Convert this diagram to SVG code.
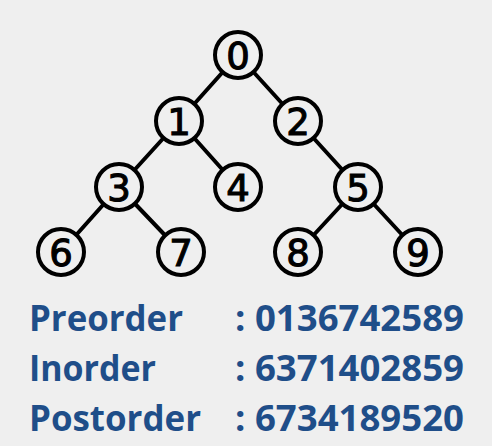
<svg xmlns="http://www.w3.org/2000/svg" width="492" height="446" viewBox="0 0 492 446">
<style>
.edge{stroke:#000;stroke-width:4;stroke-linecap:round}
.node circle{fill:#efefef;stroke:#000;stroke-width:4}
.node text{font-family:"DejaVu Sans",sans-serif;font-size:37px;fill:#000;stroke:#000;stroke-width:1.1;text-anchor:middle;dominant-baseline:central}
.lbl{font-family:"Open Sans","Liberation Sans",sans-serif;font-weight:bold;font-size:36px;fill:#1f4e89}
</style>
<rect width="492" height="446" fill="#efefef"/>
<g id="connectors">
<line class="edge" x1="238" y1="55" x2="179" y2="121"/>
<line class="edge" x1="238" y1="55" x2="298" y2="121"/>
<line class="edge" x1="179" y1="121" x2="119" y2="187"/>
<line class="edge" x1="179" y1="121" x2="238" y2="187"/>
<line class="edge" x1="298" y1="121" x2="358" y2="187"/>
<line class="edge" x1="119" y1="187" x2="61" y2="252"/>
<line class="edge" x1="119" y1="187" x2="181" y2="252"/>
<line class="edge" x1="358" y1="187" x2="298" y2="252"/>
<line class="edge" x1="358" y1="187" x2="418" y2="252"/>
</g>
<g id="n0" class="node"><circle cx="238" cy="55" r="23"/><text x="238" y="56">0</text></g>
<g id="n1" class="node"><circle cx="179" cy="121" r="23"/><text x="179" y="122">1</text></g>
<g id="n2" class="node"><circle cx="298" cy="121" r="23"/><text x="298" y="122">2</text></g>
<g id="n3" class="node"><circle cx="119" cy="187" r="23"/><text x="119" y="188">3</text></g>
<g id="n4" class="node"><circle cx="238" cy="187" r="23"/><text x="238" y="188">4</text></g>
<g id="n5" class="node"><circle cx="358" cy="187" r="23"/><text x="358" y="188">5</text></g>
<g id="n6" class="node"><circle cx="61" cy="252" r="23"/><text x="61" y="253">6</text></g>
<g id="n7" class="node"><circle cx="181" cy="252" r="23"/><text x="181" y="253">7</text></g>
<g id="n8" class="node"><circle cx="298" cy="252" r="23"/><text x="298" y="253">8</text></g>
<g id="n9" class="node"><circle cx="418" cy="252" r="23"/><text x="418" y="253">9</text></g>
<g id="traversals">
<text class="lbl" x="29" y="331" textLength="154" lengthAdjust="spacingAndGlyphs">Preorder</text>
<text class="lbl" x="29" y="381" textLength="127" lengthAdjust="spacingAndGlyphs">Inorder</text>
<text class="lbl" x="29" y="431" textLength="172" lengthAdjust="spacingAndGlyphs">Postorder</text>
<text class="lbl" x="235" y="331" textLength="229" lengthAdjust="spacingAndGlyphs">: 0136742589</text>
<text class="lbl" x="235" y="381" textLength="229" lengthAdjust="spacingAndGlyphs">: 6371402859</text>
<text class="lbl" x="235" y="431" textLength="229" lengthAdjust="spacingAndGlyphs">: 6734189520</text>
</g>
</svg>
